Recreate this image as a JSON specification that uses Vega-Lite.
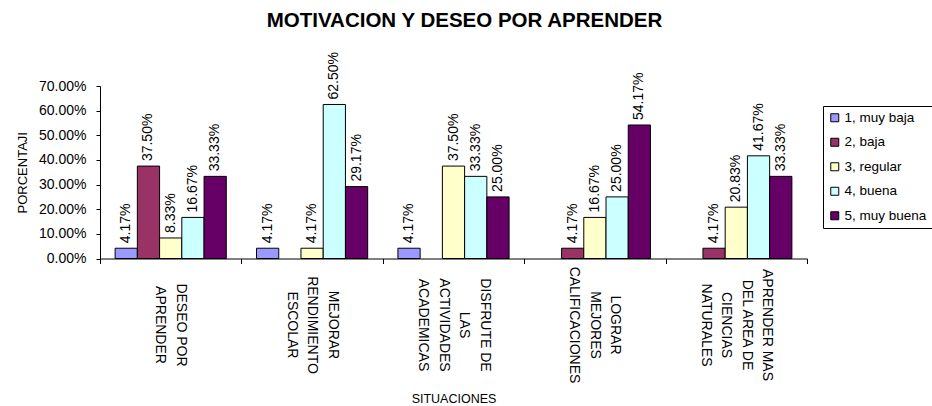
{
  "$schema": "https://vega.github.io/schema/vega-lite/v6.json",
  "width": 707,
  "height": 172.5,
  "autosize": {"type": "none"},
  "padding": {"left": 100, "top": 86, "right": 125, "bottom": 147.5},
  "background": "white",
  "config": {
    "font": "Liberation Sans",
    "view": {"stroke": null},
    "axis": {"labelColor": "black", "titleColor": "black", "domainColor": "black", "tickColor": "black", "labelFont": "Liberation Sans", "titleFont": "Liberation Sans"}
  },
  "title": {
    "text": "MOTIVACION Y DESEO POR APRENDER",
    "fontSize": 20.5,
    "fontWeight": "bold",
    "color": "black",
    "anchor": "middle",
    "frame": "group",
    "dx": 11,
    "offset": 20
  },
  "data": {
    "values": [
      {"situacion": "DESEO POR APRENDER", "nivel": "1, muy baja", "pct": 0.0417},
      {"situacion": "DESEO POR APRENDER", "nivel": "2, baja", "pct": 0.375},
      {"situacion": "DESEO POR APRENDER", "nivel": "3, regular", "pct": 0.0833},
      {"situacion": "DESEO POR APRENDER", "nivel": "4, buena", "pct": 0.1667},
      {"situacion": "DESEO POR APRENDER", "nivel": "5, muy buena", "pct": 0.3333},
      {"situacion": "MEJORAR RENDIMIENTO ESCOLAR", "nivel": "1, muy baja", "pct": 0.0417},
      {"situacion": "MEJORAR RENDIMIENTO ESCOLAR", "nivel": "3, regular", "pct": 0.0417},
      {"situacion": "MEJORAR RENDIMIENTO ESCOLAR", "nivel": "4, buena", "pct": 0.625},
      {"situacion": "MEJORAR RENDIMIENTO ESCOLAR", "nivel": "5, muy buena", "pct": 0.2917},
      {"situacion": "DISFRUTE DE LAS ACTIVIDADES ACADEMICAS", "nivel": "1, muy baja", "pct": 0.0417},
      {"situacion": "DISFRUTE DE LAS ACTIVIDADES ACADEMICAS", "nivel": "3, regular", "pct": 0.375},
      {"situacion": "DISFRUTE DE LAS ACTIVIDADES ACADEMICAS", "nivel": "4, buena", "pct": 0.3333},
      {"situacion": "DISFRUTE DE LAS ACTIVIDADES ACADEMICAS", "nivel": "5, muy buena", "pct": 0.25},
      {"situacion": "LOGRAR MEJORES CALIFICACIONES", "nivel": "2, baja", "pct": 0.0417},
      {"situacion": "LOGRAR MEJORES CALIFICACIONES", "nivel": "3, regular", "pct": 0.1667},
      {"situacion": "LOGRAR MEJORES CALIFICACIONES", "nivel": "4, buena", "pct": 0.25},
      {"situacion": "LOGRAR MEJORES CALIFICACIONES", "nivel": "5, muy buena", "pct": 0.5417},
      {"situacion": "APRENDER MAS DEL AREA DE CIENCIAS NATURALES", "nivel": "2, baja", "pct": 0.0417},
      {"situacion": "APRENDER MAS DEL AREA DE CIENCIAS NATURALES", "nivel": "3, regular", "pct": 0.2083},
      {"situacion": "APRENDER MAS DEL AREA DE CIENCIAS NATURALES", "nivel": "4, buena", "pct": 0.4167},
      {"situacion": "APRENDER MAS DEL AREA DE CIENCIAS NATURALES", "nivel": "5, muy buena", "pct": 0.3333}
    ]
  },
  "encoding": {
    "xOffset": {
      "field": "nivel",
      "type": "nominal",
      "scale": {"domain": ["1, muy baja", "2, baja", "3, regular", "4, buena", "5, muy buena"], "paddingInner": 0, "paddingOuter": 0.68}
    },
    "y": {
      "field": "pct",
      "type": "quantitative",
      "scale": {"domain": [0, 0.7], "nice": false},
      "axis": {
        "title": "PORCENTAJI",
        "titleFontSize": 13,
        "titleFontWeight": "normal",
        "titlePadding": 9,
        "values": [0, 0.1, 0.2, 0.3, 0.4, 0.5, 0.6, 0.7],
        "format": ".2%",
        "labelFontSize": 14,
        "labelPadding": 10,
        "tickSize": 4,
        "grid": false
      }
    }
  },
  "resolve": {"axis": {"x": "independent"}},
  "layer": [
    {
      "mark": {"type": "bar", "stroke": "black", "strokeWidth": 1},
      "encoding": {
        "x": {
          "field": "situacion",
          "type": "nominal",
          "sort": null,
          "scale": {"paddingInner": 0, "paddingOuter": 0},
          "axis": {
            "orient": "bottom",
            "title": null,
            "labels": false,
            "tickBand": "extent",
            "tickSize": 5,
            "domain": true
          }
        },
        "color": {
          "field": "nivel",
          "type": "nominal",
          "scale": {
            "domain": ["1, muy baja", "2, baja", "3, regular", "4, buena", "5, muy buena"],
            "range": ["#9999FF", "#993366", "#FFFFCC", "#CCFFFF", "#660066"]
          },
          "legend": {
            "title": null,
            "orient": "none",
            "legendX": 723,
            "legendY": 20,
            "symbolType": "square",
            "symbolSize": 64,
            "symbolStrokeColor": "black",
            "symbolStrokeWidth": 1,
            "labelFontSize": 13.5,
            "labelColor": "black",
            "labelOffset": 3,
            "rowPadding": 9.5,
            "padding": 5,
            "strokeColor": "black",
            "fillColor": "white"
          }
        }
      }
    },
    {
      "mark": {"type": "text", "angle": 270, "align": "left", "baseline": "middle", "dx": 5, "fontSize": 14, "color": "black"},
      "encoding": {
        "x": {
          "field": "situacion",
          "type": "nominal",
          "sort": null,
          "axis": {
            "orient": "bottom",
            "title": "SITUACIONES",
            "titleFontSize": 12.5,
            "titleFontWeight": "normal",
            "titleY": 134,
            "titleBaseline": "top",
            "domain": false,
            "ticks": false,
            "labelAngle": 90,
            "labelAlign": "center",
            "labelBaseline": "middle",
            "labelFontSize": 14,
            "labelLineHeight": 20.5,
            "labelPadding": 66,
            "labelBound": false,
            "labelOverlap": false,
            "labelFlush": false,
            "labelLimit": 0,
            "labelOffset": {
              "condition": [
                {"test": "datum.value == 'DESEO POR APRENDER'", "value": 10},
                {"test": "datum.value == 'DISFRUTE DE LAS ACTIVIDADES ACADEMICAS' || datum.value == 'APRENDER MAS DEL AREA DE CIENCIAS NATURALES'", "value": 31}
              ],
              "value": 20.5
            },
            "labelExpr": "datum.value == 'DESEO POR APRENDER' ? ['DESEO POR', 'APRENDER'] : datum.value == 'MEJORAR RENDIMIENTO ESCOLAR' ? ['MEJORAR', 'RENDIMIENTO', 'ESCOLAR'] : datum.value == 'DISFRUTE DE LAS ACTIVIDADES ACADEMICAS' ? ['DISFRUTE DE', 'LAS', 'ACTIVIDADES', 'ACADEMICAS'] : datum.value == 'LOGRAR MEJORES CALIFICACIONES' ? ['LOGRAR', 'MEJORES', 'CALIFICACIONES'] : ['APRENDER MAS', 'DEL AREA DE', 'CIENCIAS', 'NATURALES']"
          }
        },
        "text": {"field": "pct", "type": "quantitative", "format": ".2%"}
      }
    }
  ]
}
